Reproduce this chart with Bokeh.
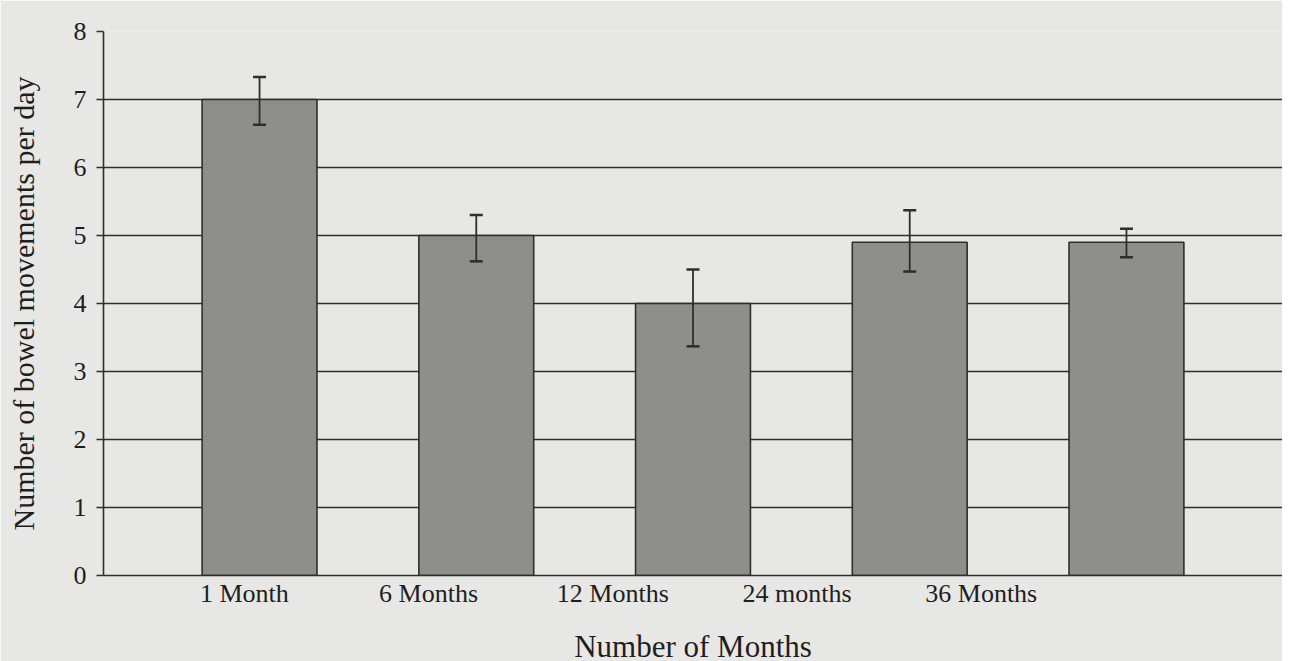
from bokeh.plotting import figure
from bokeh.models import ColumnDataSource, Whisker, TeeHead, FixedTicker, Range1d
from bokeh.embed import file_html
from bokeh.resources import INLINE

# ---- data ----
months = ["1 Month", "6 Months", "12 Months", "24 months", "36 Months"]
means = [7.0, 5.0, 4.0, 4.9, 4.9]
upper = [7.33, 5.3, 4.5, 5.37, 5.1]
lower = [6.63, 4.62, 3.37, 4.47, 4.68]
y_ticks = [0, 1, 2, 3, 4, 5, 6, 7, 8]

# ---- layout (bars at 1..n; the printed labels sit on their own, tighter spacing) ----
bar_x = [i + 1 for i in range(len(months))]
label_x = [0.93 + 0.85 * i for i in range(len(months))]

FONT = "Liberation Serif"
BG = "#e7e7e5"
INK = "#2e2e2e"

src = ColumnDataSource(dict(x=bar_x, top=means, upper=upper, lower=lower))

p = figure(frame_width=1179, frame_height=544, output_backend="svg", toolbar_location=None,
           x_range=Range1d(0.28, 5.72), y_range=Range1d(0, 8))
p.min_border_left = 103
p.min_border_right = 0
p.min_border_top = 31
p.min_border_bottom = 0
p.background_fill_color = BG
p.border_fill_color = BG
p.outline_line_color = None

p.vbar(x="x", top="top", width=0.53, bottom=0, source=src,
       fill_color="#8e8e8c", line_color=INK, line_width=1.6)

w = Whisker(base="x", upper="upper", lower="lower", source=src,
            line_color=INK, line_width=1.8, level="overlay",
            upper_head=TeeHead(size=13, line_color=INK, line_width=2.5),
            lower_head=TeeHead(size=13, line_color=INK, line_width=2.5))
p.add_layout(w)

# grid
p.xgrid.visible = False
p.ygrid.ticker = FixedTicker(ticks=y_ticks)
p.ygrid.grid_line_color = INK
p.ygrid.grid_line_width = 1.6
p.ygrid.grid_line_alpha = 1.0

# y axis
p.yaxis.ticker = FixedTicker(ticks=y_ticks)
p.yaxis.axis_label = "Number of bowel movements per day"
p.yaxis.axis_label_text_font = FONT
p.yaxis.axis_label_text_font_style = "normal"
p.yaxis.axis_label_text_font_size = "30px"
p.yaxis.axis_label_text_color = "#1e1e1e"
p.yaxis.axis_label_standoff = 31
p.yaxis.major_label_text_font = FONT
p.yaxis.major_label_text_font_size = "26px"
p.yaxis.major_label_text_color = "#1e1e1e"
p.yaxis.major_label_standoff = 10
p.yaxis.major_tick_out = 7
p.yaxis.major_tick_in = 0
p.yaxis.minor_tick_out = 0
p.yaxis.minor_tick_in = 0
p.yaxis.major_tick_line_color = INK
p.yaxis.major_tick_line_width = 1.6
p.yaxis.axis_line_color = INK
p.yaxis.axis_line_width = 1.6

# x axis
p.xaxis.ticker = FixedTicker(ticks=label_x)
p.xaxis.major_label_overrides = {lx: m for lx, m in zip(label_x, months)}
p.xaxis.axis_label = "Number of Months"
p.xaxis.axis_label_text_font = FONT
p.xaxis.axis_label_text_font_style = "normal"
p.xaxis.axis_label_text_font_size = "31px"
p.xaxis.axis_label_text_color = "#1e1e1e"
p.xaxis.axis_label_standoff = 18
p.xaxis.major_label_text_font = FONT
p.xaxis.major_label_text_font_size = "26px"
p.xaxis.major_label_text_color = "#1e1e1e"
p.xaxis.major_label_standoff = 3
p.xaxis.major_tick_out = 0
p.xaxis.major_tick_in = 0
p.xaxis.minor_tick_out = 0
p.xaxis.minor_tick_in = 0
p.xaxis.axis_line_color = INK
p.xaxis.axis_line_width = 1.6

open("out.html", "w").write(file_html(p, INLINE))
